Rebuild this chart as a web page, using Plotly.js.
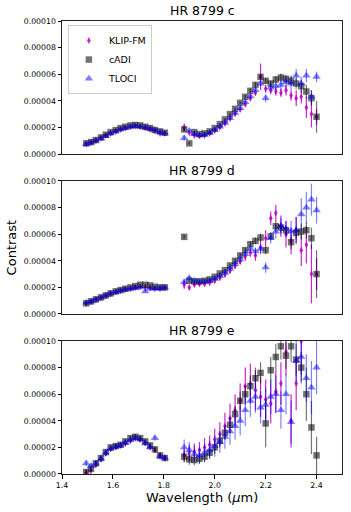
<!DOCTYPE html>
<html>
<head>
<meta charset="utf-8">
<script src="https://cdn.plot.ly/plotly-3.0.1.min.js"></script>
<style>
  html, body { margin: 0; padding: 0; background: #fff; }
  #chart { width: 351px; height: 512px; }
</style>
</head>
<body>
<div id="chart"></div>
<script>
// Contrast spectra of HR 8799 c, d, e — three reductions per planet.
// All contrast values / errors below are in units of 1e-6.
const SCALE = 1e-6;

// Wavelength channels (micron): H band, then K band
const wlH = [1.495, 1.514, 1.533, 1.553, 1.572, 1.591, 1.611, 1.630, 1.649, 1.669, 1.688, 1.707, 1.727, 1.746, 1.765, 1.785, 1.804];
const wlK = [1.88, 1.90, 1.92, 1.94, 1.96, 1.98, 2.00, 2.02, 2.04, 2.06, 2.08, 2.10, 2.12, 2.14, 2.16, 2.18, 2.20, 2.22, 2.24, 2.26, 2.28, 2.30, 2.32, 2.34, 2.36, 2.38, 2.40];

// HR 8799 c
const klipC    = [7.5, 8.5, 10, 12, 14, 15.5, 17, 18.5, 19.5, 20.5, 21, 20.5, 19.5, 18.5, 17.5, 15.5, 15.5,
                  20, 16, 14, 13.5, 14, 15.5, 17.5, 20, 23, 26.5, 30, 33.5, 37.5, 42, 46, 58, 49, 48, 47, 46, 48, 44, 42, 43, 35, 30, 28];
const klipCErr = [0.6, 0.6, 0.6, 0.6, 0.6, 0.6, 0.6, 0.6, 0.6, 0.6, 0.6, 0.6, 0.6, 0.6, 0.6, 0.6, 0.6,
                  3, 1.5, 1, 1, 1, 1, 1, 1, 1, 1, 1.5, 1.5, 2, 2, 2, 10, 3, 3, 3, 3, 4, 4, 6, 5, 8, 10, 6];
const cadiC    = [8, 9, 10.5, 12.5, 14.5, 16.5, 18, 19.5, 20.5, 21.5, 21.8, 21.5, 20.5, 19.5, 18, 17, 16,
                  18.5, 8, 16.5, 15, 15.5, 17, 19.5, 22.5, 26, 30, 34, 38.5, 43, 47.5, 52, 58, 55, 53, 56, 57.5, 56.5, 55, 53, 51, 47, 42, 28];
const cadiCErr = [0.6, 0.6, 0.6, 0.6, 0.6, 0.6, 0.6, 0.6, 0.6, 0.6, 0.6, 0.6, 0.6, 0.6, 0.6, 0.6, 0.6,
                  1, 1, 1, 1, 1, 1, 1, 1, 1, 1, 1, 1, 1.5, 1.5, 2, 2, 2, 2, 2.5, 3, 3, 4, 4, 5, 5, 6, 12];
const tlociC    = [7.5, 8.5, 10, 11.5, 13.5, 15.5, 17, 18.5, 19.5, 20.5, 21, 20.5, 20, 19, 18, 16.5, 15.5,
                   12, 17.5, 15, 14, 14.5, 16, 18, 20.5, 23.5, 27, 31, 34.5, 39, 43.5, 48, 53, 42, 50, 51, 52, 54, 53, 59, 53, 59, 43, 58];
const tlociCErr = [0.6, 0.6, 0.6, 0.6, 0.6, 0.6, 0.6, 0.6, 0.6, 0.6, 0.6, 0.6, 0.6, 0.6, 0.6, 0.6, 0.6,
                   2, 1, 1, 1, 1, 1, 1, 1, 1, 1, 1, 1.5, 1.5, 2, 2, 2, 3, 3, 3, 4, 4, 5, 5, 5, 5, 5, 4];

// HR 8799 d
const klipD    = [8, 9, 10.5, 12, 13.5, 15, 16.5, 17.5, 18.5, 19, 20, 20.5, 20, 19.5, 19, 19, 19.5,
                  22, 20, 22, 22.5, 22.5, 23.5, 25, 27, 29.5, 32.5, 36, 39.5, 43, 46, 44, 50, 57, 72, 76, 66, 60, 55, 63, 48, 52, 30, 30];
const klipDErr = [0.8, 0.8, 0.8, 0.8, 0.8, 0.8, 0.8, 0.8, 0.8, 0.8, 0.8, 0.8, 0.8, 0.8, 0.8, 0.8, 0.8,
                  3, 2, 1.5, 1.5, 1.5, 1.5, 1.5, 1.5, 1.5, 2, 2, 2, 3, 3, 4, 5, 6, 5, 6, 8, 10, 10, 10, 12, 14, 22, 12];
const cadiD    = [8, 9.5, 11, 12.5, 14, 15.5, 17, 18, 19, 20, 21, 22, 22, 21.5, 20.5, 20, 20,
                  58, 25, 24.5, 24.5, 25, 26, 28, 30.5, 33, 36.5, 40, 44, 48, 52.5, 55, 57.5, 48, 58.5, 66, 65, 63, 54, 61, 62, 63, 57, 30];
const cadiDErr = [0.8, 0.8, 0.8, 0.8, 0.8, 0.8, 0.8, 0.8, 0.8, 0.8, 0.8, 0.8, 0.8, 0.8, 0.8, 0.8, 0.8,
                  1.5, 1, 1, 1, 1, 1, 1, 1, 1, 1.5, 1.5, 2, 2, 2, 2.5, 3, 3, 3, 4, 4, 4, 5, 5, 6, 6, 8, 18];
const tlociD    = [8.5, 9.5, 11, 12.5, 14, 15.5, 16.5, 17.5, 18.5, 19, 19.5, 20, 17, 19, 19, 19.5, 20,
                   24, 27, 25, 24.5, 24.5, 25, 26.5, 28.5, 31, 34, 37.5, 41, 45, 49, 47, 49, 35, 57, 62, 66, 64, 62, 63, 75, 80, 86, 78];
const tlociDErr = [0.8, 0.8, 0.8, 0.8, 0.8, 0.8, 0.8, 0.8, 0.8, 0.8, 0.8, 0.8, 0.8, 0.8, 0.8, 0.8, 0.8,
                   2, 1.5, 1, 1, 1, 1, 1, 1, 1.5, 1.5, 2, 2, 2, 3, 3, 3, 4, 4, 5, 6, 6, 8, 10, 12, 12, 12, 10];

// HR 8799 e
const klipE    = [1, 2.5, 7, 11, 15.5, 19, 20.5, 21.5, 23, 25, 27, 26, 23.5, 20.5, 18, 14, 12,
                  14, 16, 17, 18, 20, 22, 26, 30, 36, 42, 48, 55, 66, 68, 63, 58, 56, 53, 62, 68, 92, 40, 68, 100, null, null, null];
const klipEErr = [2, 2, 2, 2, 2, 2, 2, 2, 2, 2, 2, 2, 2, 2, 2, 2, 2,
                  5, 6, 6, 6, 7, 7, 8, 9, 10, 11, 12, 13, 14, 15, 15, 15, 15, 15, 16, 16, 18, 20, 20, 25, 0, 0, 0];
const cadiE    = [1.5, 4, 8, 12, 16.5, 20, 21, 22, 24.5, 27, 28, 27, 24.5, 21.5, 18.5, 14, 12,
                  13, 11, 10.5, 11.5, 13, 16, 20, 25, 31, 37, 45, 55, 60, 66, 72, 76, 38, 78, 88, 96, 89, 96, 86, 80, 60, 35, 14];
const cadiEErr = [2, 2, 2, 2, 2, 2, 2, 2, 2, 2, 2, 2, 2, 2, 2, 2, 2,
                  4, 4, 4, 4, 4, 4, 5, 5, 5, 6, 6, 7, 7, 8, 8, 8, 18, 10, 10, 10, 10, 12, 12, 12, 20, 20, 14];
const tlociE    = [8, 6, 8, 11.5, 16, 19, 20.5, 21.5, 23.5, 25.5, 27, 26, 23, 20, 27, 13, 12,
                   20, 18, 15, 14, 16, 18, 21, 24, 28, 32, 36, 40, 48, 55, 58, 50, 52, 58, 60, 48, 60, 39, 85, 88, 72, 65, 80];
const tlociEErr = [2, 2, 2, 2, 2, 2, 2, 2, 2, 2, 2, 2, 2, 2, 2, 2, 2,
                   6, 6, 6, 6, 7, 7, 8, 8, 9, 10, 10, 11, 12, 12, 12, 12, 13, 13, 14, 14, 15, 16, 16, 18, 18, 20, 20];

const yTicks = [0, 2e-5, 4e-5, 6e-5, 8e-5, 1e-4];
const yTickText = ["0.00000", "0.00002", "0.00004", "0.00006", "0.00008", "0.00010"];
const xTicks = [1.4, 1.6, 1.8, 2.0, 2.2, 2.4];
const xTickText = ["1.4", "1.6", "1.8", "2.0", "2.2", "2.4"];

const wl = wlH.concat(wlK);

const METHODS = [
  { name: "KLIP-FM", symbol: "diamond-tall", size: 5,   color: "rgba(191,0,191,0.85)" },
  { name: "cADI",    symbol: "square",       size: 6.5, color: "rgba(0,0,0,0.55)" },
  { name: "TLOCI",   symbol: "triangle-up",  size: 7.5, color: "rgba(0,0,255,0.5)" },
];

const PANELS = [
  { title: "HR 8799 c", data: [[klipC, klipCErr], [cadiC, cadiCErr], [tlociC, tlociCErr]], domain: [0.7064, 1] },
  { title: "HR 8799 d", data: [[klipD, klipDErr], [cadiD, cadiDErr], [tlociD, tlociDErr]], domain: [0.3532, 0.6468] },
  { title: "HR 8799 e", data: [[klipE, klipEErr], [cadiE, cadiEErr], [tlociE, tlociEErr]], domain: [0, 0.2936] },
];

const FONT = "DejaVu Sans, Liberation Sans, sans-serif";
const traces = [];
const layout = {
  width: 351, height: 512,
  margin: { l: 62, r: 9, t: 21, b: 38 },
  paper_bgcolor: "#fff", plot_bgcolor: "#fff",
  font: { family: FONT, color: "#000" },
  showlegend: true,
  legend: {
    x: 0.021, y: 0.991, xanchor: "left", yanchor: "top",
    bgcolor: "rgba(255,255,255,0.8)", bordercolor: "#cccccc", borderwidth: 1,
    font: { family: FONT, size: 9.5, color: "#000" },
    tracegroupgap: 0,
  },
  annotations: [],
};

PANELS.forEach((p, i) => {
  const sfx = i === 0 ? "" : String(i + 1);
  const last = i === PANELS.length - 1;
  p.data.forEach(([vals, errs], m) => {
    const M = METHODS[m];
    traces.push({
      type: "scatter", mode: "markers", name: M.name, legendgroup: M.name,
      showlegend: i === 0,
      x: wl, y: vals.map(v => v == null ? null : v * SCALE),
      xaxis: "x" + sfx, yaxis: "y" + sfx,
      marker: { symbol: M.symbol, size: M.size, color: M.color, line: { width: 0 } },
      error_y: { type: "data", array: errs.map(e => e * SCALE), color: M.color, thickness: 1.2, width: 0 },
      cliponaxis: true,
    });
  });
  // shared x: only the bottom panel carries ticks and labels
  layout["xaxis" + sfx] = {
    domain: [0, 1], anchor: "y" + sfx, range: [1.4, 2.5],
    tickvals: xTicks, ticktext: xTickText, showticklabels: last,
    ticks: last ? "outside" : "", ticklen: 3.5, tickwidth: 1, tickcolor: "#000",
    showline: true, linecolor: "#222", linewidth: 1, mirror: true,
    showgrid: false, zeroline: false,
    tickfont: { family: FONT, size: 7.8, color: "#000" },
  };
  layout["yaxis" + sfx] = {
    domain: p.domain, anchor: "x" + sfx, range: [0, 1e-4],
    tickvals: yTicks, ticktext: yTickText,
    ticks: "outside", ticklen: 3.5, tickwidth: 1, tickcolor: "#000",
    showline: true, linecolor: "#222", linewidth: 1, mirror: true,
    showgrid: false, zeroline: false,
    tickfont: { family: FONT, size: 7.8, color: "#000" },
  };
  layout.annotations.push({
    text: p.title, xref: "paper", yref: "paper", x: 0.5, y: p.domain[1],
    xanchor: "center", yanchor: "bottom", yshift: 1, showarrow: false,
    font: { family: FONT, size: 12.5, color: "#000" },
  });
});

layout.annotations.push({
  text: "Contrast", xref: "paper", yref: "paper", x: -0.179, y: 0.5,
  xanchor: "center", yanchor: "middle", textangle: -90, showarrow: false,
  font: { family: FONT, size: 13, color: "#000" },
});
layout.annotations.push({
  text: "Wavelength (<i>μ</i>m)", xref: "paper", yref: "paper", x: 0.5, y: 0,
  xanchor: "center", yanchor: "middle", yshift: -23, showarrow: false,
  font: { family: FONT, size: 13, color: "#000" },
});

Plotly.newPlot("chart", traces, layout, { displayModeBar: false, staticPlot: true });
</script>
</body>
</html>
